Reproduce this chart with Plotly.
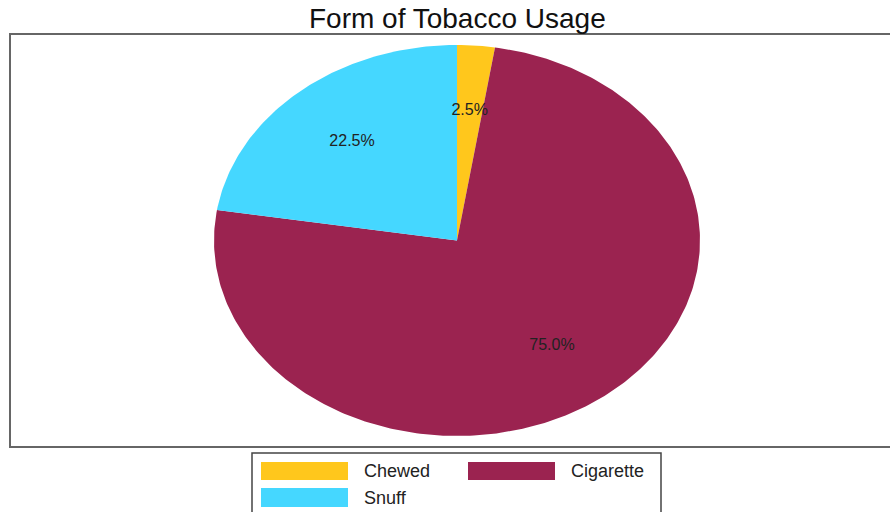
import numpy as np
import plotly.graph_objects as go

categories = ["Chewed", "Cigarette", "Snuff"]
values = [2.5, 75.0, 22.5]
colors = ["#FFC71C", "#9B2350", "#45D7FF"]
title = "Form of Tobacco Usage"

W, H = 890, 512
CX, CY, RX, RY = 457, 240.5, 243, 195.5

def px(x):
    return x / W

def py(y):
    return 1 - y / H

fig = go.Figure()
total = sum(values)
start = 0.0
label_pos = []
for cat, val, col in zip(categories, values, colors):
    a0 = start / total * 2 * np.pi
    a1 = (start + val) / total * 2 * np.pi
    t = np.linspace(a0, a1, max(int(val * 4), 8))
    xs = np.concatenate([[0], np.sin(t), [0]])
    ys = np.concatenate([[0], np.cos(t), [0]])
    fig.add_trace(go.Scatter(x=xs, y=ys, fill="toself", fillcolor=col, mode="lines",
                             line=dict(width=0, color=col), name=cat, showlegend=False,
                             hoverinfo="name"))
    am = (a0 + a1) / 2
    label_pos.append((0.665 * np.sin(am), 0.665 * np.cos(am), f"{val / total * 100:.1f}%"))
    start += val

fig.add_trace(go.Scatter(x=[p[0] for p in label_pos], y=[p[1] for p in label_pos],
                         text=[p[2] for p in label_pos], mode="text",
                         textfont=dict(size=16, color="#222222", family="Liberation Sans, Arial"),
                         showlegend=False, hoverinfo="skip"))

shapes = [
    dict(type="rect", xref="paper", yref="paper", x0=px(10), x1=px(905), y0=py(447), y1=py(34),
         line=dict(color="#666666", width=2), fillcolor="rgba(0,0,0,0)", layer="above"),
    dict(type="rect", xref="paper", yref="paper", x0=px(252), x1=px(661), y0=py(530), y1=py(453),
         line=dict(color="#444444", width=1.5), fillcolor="white"),
]
annotations = [
    dict(text=title, xref="paper", yref="paper", x=px(457), y=py(18), showarrow=False,
         font=dict(size=28, color="#111111", family="Liberation Sans, Arial"),
         xanchor="center", yanchor="middle"),
]
cols_x = [(261, 348, 362), (468, 555, 569)]
rows_y = [(462, 480), (488, 507)]
for i, (cat, col) in enumerate(zip(categories, colors)):
    r, c = divmod(i, 2)
    x0, x1, tx = cols_x[c]
    y0, y1 = rows_y[r]
    shapes.append(dict(type="rect", xref="paper", yref="paper", x0=px(x0), x1=px(x1),
                       y0=py(y1), y1=py(y0), fillcolor=col, line=dict(width=0)))
    annotations.append(dict(text=cat, xref="paper", yref="paper", x=px(tx), y=py((y0 + y1) / 2),
                            showarrow=False, xanchor="left", yanchor="middle",
                            font=dict(size=18, color="#222222", family="Liberation Sans, Arial")))

fig.update_layout(
    width=W, height=H, margin=dict(l=0, r=0, t=0, b=0),
    paper_bgcolor="white", plot_bgcolor="white",
    xaxis=dict(range=[(0 - CX) / RX, (W - CX) / RX], visible=False, fixedrange=True),
    yaxis=dict(range=[(CY - H) / RY, CY / RY], visible=False, fixedrange=True),
    shapes=shapes, annotations=annotations, showlegend=False,
)
fig.write_html("out.html")
